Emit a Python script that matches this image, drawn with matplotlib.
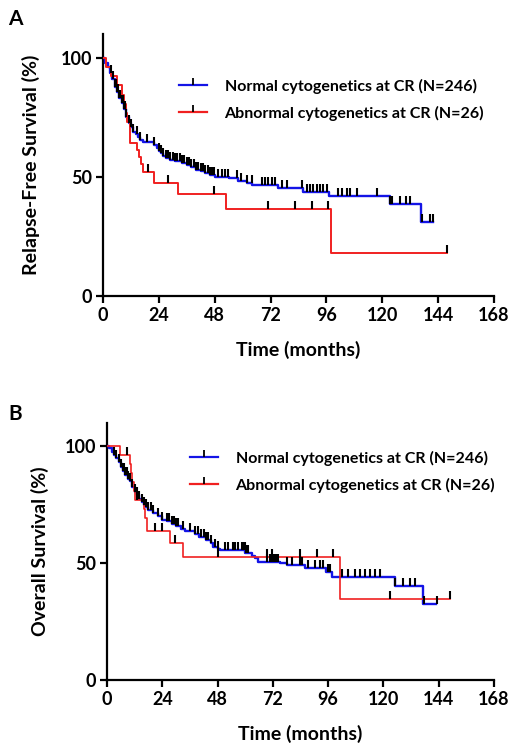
import numpy as np
import matplotlib
matplotlib.use("Agg")
import matplotlib.pyplot as plt
from matplotlib.lines import Line2D

plt.rcParams['font.family'] = ['Lato', 'DejaVu Sans']
plt.rcParams['font.weight'] = 'bold'

# Panel A - relapse-free survival (step points: time in months, survival %)
a_norm_t = [0, 1, 2, 3, 4, 5, 6, 7, 8, 9, 10, 11, 12, 13, 14, 15, 16, 17, 22, 23, 24, 25, 26, 27, 29,
            31, 34, 36, 38, 40, 42, 44, 46, 48, 54, 58, 62, 64, 75, 86, 97, 123.3, 136.5]
a_norm_s = [100, 98, 96, 93.5, 91, 88, 85.5, 83, 81, 78.5, 75, 72.5, 71, 69, 68, 67, 65.5, 64.5, 63.5, 62,
            61, 60, 59, 58, 57, 56.5, 56, 55, 54, 53, 52.5, 51.5, 50.8, 50, 49.4, 48.5, 47.5, 46.6, 45.2,
            43.8, 42.2, 38.5, 31]
a_norm_end = 142
a_norm_cens = [3.5, 4.5, 5, 5.5, 6, 6.5, 7, 7.5, 8, 8.5, 9, 9.5, 10, 11, 12, 13, 14.5, 16, 19, 22, 24, 25,
               26, 27, 28, 29, 30, 31, 32, 33, 34, 35, 36, 37, 38, 39, 40, 41, 42, 43, 44, 45, 46, 47,
               47.8, 49.5, 51, 52.5, 53.8, 57.6, 59.5, 62, 63.9, 68.2, 69.6, 71, 72.5, 73.9, 76.8, 78.9,
               85.4, 87.5, 89, 90.4, 91.8, 93.2, 94.7, 96.1, 101.1, 102.5, 104.7, 106.1, 109, 117.6,
               123.3, 124, 127.6, 130.4, 131.9, 137, 140.5, 141.6]

a_abn_t = [0, 1.5, 3.5, 6, 8, 9, 9.7, 10.5, 11.8, 14.5, 15.5, 16.3, 17.2, 22, 32.3, 53, 98]
a_abn_s = [100, 96.2, 92.3, 88.5, 84.6, 80.8, 76.9, 73.1, 64.1, 61.5, 58.4, 55.5, 52, 47.6, 42.9, 36.4, 18.2]
a_abn_end = 147.6
a_abn_cens = [19.5, 28, 47.8, 71, 82.5, 89.9, 96.8, 147.6]

# Panel B - overall survival
b_norm_t = [0, 1, 2, 3, 4, 5, 6, 7, 8, 9, 10, 11, 12, 13, 14, 15, 16, 17, 18, 20, 22, 24, 26, 28, 30,
            32, 34, 38, 40, 43, 45, 46, 48, 49, 60, 63, 64.2, 65.7, 75, 78, 86, 95, 97.5, 125, 137.3]
b_norm_s = [100, 99, 97.5, 96, 95, 93, 91, 89.2, 87.5, 86, 84.9, 82.5, 80.5, 79, 77.5, 76, 74.9, 74,
            72.8, 71.5, 70, 68.5, 67.8, 66.8, 65.7, 64.5, 63.5, 62.3, 61.2, 60, 58.5, 57, 56, 55.6, 54.1,
            53, 52, 50.6, 49.9, 49.1, 47.7, 46.3, 44.2, 40.2, 32.5]
b_norm_end = 143
b_norm_cens = [3, 4, 5, 6, 7, 7.5, 8, 8.5, 9, 10, 11, 12, 13, 14, 15, 16, 17, 18, 19, 20, 22, 24, 26, 27,
               28, 29, 30, 31, 33.1, 36, 38.2, 39.6, 41, 42, 43, 44, 45, 47, 48.3, 51.2, 52.6, 54.8,
               55.5, 57, 58.4, 59.1, 59.8, 60.5, 61.2, 69.3, 70.7, 71.4, 72.1, 72.9, 73.6, 74.3, 78,
               80.2, 83.8, 84.5, 87.4, 90.3, 92.5, 93.9, 96.1, 96.8, 101.9, 104.7, 107.6, 109.8, 112,
               114.1, 116.3, 118.5, 125, 128.6, 131.5, 133.7, 137.8, 143.1]

b_abn_t = [0, 5.6, 10, 10.5, 11, 11.5, 12, 16, 16.5, 17.5, 27.5, 33, 101]
b_abn_s = [100, 96.2, 92.3, 88.5, 84.6, 80.8, 76.9, 73.1, 69.2, 63.5, 58.5, 52.4, 34.6]
b_abn_end = 149
b_abn_cens = [8.5, 12.9, 20.8, 23.7, 29.5, 48.3, 69.3, 71.5, 83.8, 91, 98.2, 122.8, 148.9]

x_ticks = [0, 24, 48, 72, 96, 120, 144, 168]
y_ticks = [0, 50, 100]
label_norm = 'Normal cytogenetics at CR (N=246)'
label_abn = 'Abnormal cytogenetics at CR (N=26)'

BLUE = '#1414e6'
RED = '#f02020'


def km_curve(ax, t, s, t_end, cens, color, lw):
    tt = list(t) + [t_end]
    ss = list(s) + [s[-1]]
    ax.step(tt, ss, where='post', color=color, lw=lw, zorder=3)
    idx = np.searchsorted(np.array(t), np.array(cens), side='right') - 1
    ax.plot(cens, np.array(s)[idx], ls='none', marker=2, ms=5.5, mew=1.5, color='black', zorder=4)


def style_axes(ax, ylabel, ylab_x):
    ax.set_xlim(0, 168)
    ax.set_ylim(0, 110)
    ax.set_xticks(x_ticks)
    ax.set_yticks(y_ticks)
    for side in ['top', 'right']:
        ax.spines[side].set_visible(False)
    for side in ['left', 'bottom']:
        ax.spines[side].set_linewidth(1.6)
    ax.tick_params(direction='out', length=5, width=1.6, labelsize=13, pad=3)
    ax.set_xlabel('Time (months)', fontsize=14, fontweight='bold', labelpad=12)
    ax.set_ylabel(ylabel, fontsize=14, fontweight='bold')
    ax.yaxis.set_label_coords(ylab_x, 0.5)


def add_legend(ax, fig, x, y):
    h1 = Line2D([], [], color=BLUE, lw=1.6, marker=2, ms=5, mew=1.3, mec='black')
    h2 = Line2D([], [], color=RED, lw=1.6, marker=2, ms=5, mew=1.3, mec='black')
    ax.legend([h1, h2], [label_norm, label_abn], loc='center left', bbox_to_anchor=(x, y),
              bbox_transform=fig.transFigure, frameon=False, fontsize=11.5, handlelength=1.75,
              handletextpad=1.1, labelspacing=0.75, borderpad=0, borderaxespad=0)


fig = plt.figure(figsize=(5.18, 7.51), dpi=100)

axA = fig.add_axes([0.1988, 0.6059, 0.7549, 0.3486])
km_curve(axA, a_norm_t, a_norm_s, a_norm_end, a_norm_cens, BLUE, 1.7)
km_curve(axA, a_abn_t, a_abn_s, a_abn_end, a_abn_cens, RED, 1.4)
style_axes(axA, 'Relapse-Free Survival (%)', -0.16)
add_legend(axA, fig, 0.3456, 0.8675)

axB = fig.add_axes([0.2066, 0.0945, 0.7471, 0.3428])
km_curve(axB, b_norm_t, b_norm_s, b_norm_end, b_norm_cens, BLUE, 1.7)
km_curve(axB, b_abn_t, b_abn_s, b_abn_end, b_abn_cens, RED, 1.2)
style_axes(axB, 'Overall Survival (%)', -0.149)
add_legend(axB, fig, 0.3668, 0.3715)

fig.text(8 / 518, 1 - 25 / 751, 'A', fontsize=15, fontweight='bold', va='baseline')
fig.text(8 / 518, 1 - 420 / 751, 'B', fontsize=15, fontweight='bold', va='baseline')

fig.savefig('out.png', dpi=100)
